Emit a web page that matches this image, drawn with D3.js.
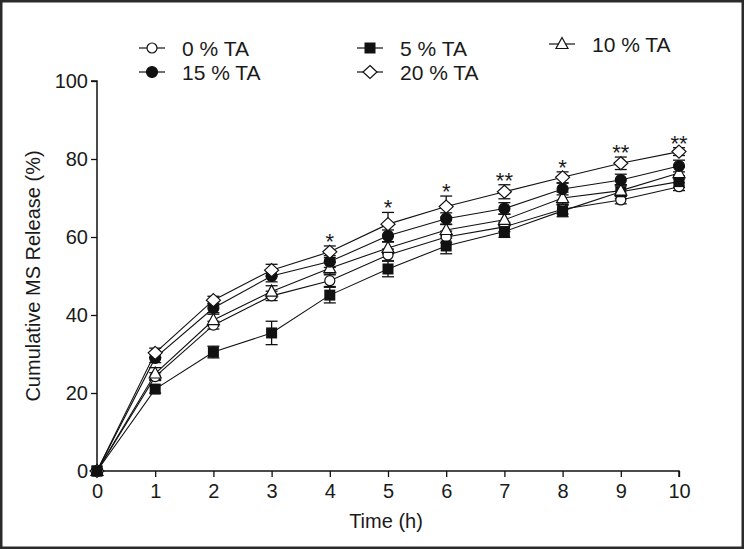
<!DOCTYPE html>
<html>
<head>
<meta charset="utf-8">
<script src="https://cdn.jsdelivr.net/npm/d3@7"></script>
<style>
  html, body { margin: 0; padding: 0; background: #fff; }
  svg { display: block; }
  text { font-family: "Liberation Sans", Arial, sans-serif; fill: #1a1a1a; }
</style>
</head>
<body>
<svg id="chart" width="744" height="549"></svg>
<script>
// ---- data ----
const times = [0, 1, 2, 3, 4, 5, 6, 7, 8, 9, 10];
const xTicks = [0, 1, 2, 3, 4, 5, 6, 7, 8, 9, 10];
const yTicks = [0, 20, 40, 60, 80, 100];

const seriesNames = ["0 % TA", "5 % TA", "10 % TA", "15 % TA", "20 % TA"];
const ta0  = [0, 24.2, 37.4, 44.9, 48.8, 55.4, 60.0, 62.6, 67.1, 69.5, 72.9];
const ta5  = [0, 21.0, 30.5, 35.4, 45.1, 51.8, 57.7, 61.4, 66.7, 71.6, 74.2];
const ta10 = [0, 25.0, 38.7, 46.0, 52.0, 57.2, 61.8, 64.4, 70.0, 71.9, 76.4];
const ta15 = [0, 29.0, 41.8, 50.0, 53.7, 60.3, 64.7, 67.3, 72.3, 74.6, 78.2];
const ta20 = [0, 30.3, 43.8, 51.5, 56.2, 63.3, 67.8, 71.6, 75.3, 78.9, 81.9];

const err0  = [0, 1.0, 1.0, 1.2, 1.5, 1.5, 1.5, 1.2, 1.2, 1.0, 1.0];
const err5  = [0, 1.0, 1.5, 3.0, 2.0, 2.0, 2.0, 1.5, 1.5, 1.8, 1.5];
const err10 = [0, 1.5, 1.5, 1.5, 1.5, 1.5, 1.5, 1.5, 1.5, 1.5, 1.5];
const err15 = [0, 1.2, 1.2, 1.5, 1.5, 1.5, 1.5, 1.5, 1.5, 1.5, 1.5];
const err20 = [0, 1.2, 1.0, 1.5, 1.5, 3.0, 2.7, 1.8, 1.4, 1.6, 1.0];

const stars = ["", "", "", "", "*", "*", "*", "**", "*", "**", "**"];

const seriesVals = [ta0, ta5, ta10, ta15, ta20];
const seriesErr  = [err0, err5, err10, err15, err20];
const seriesSym  = ["circleOpen", "squareFilled", "triangleOpen", "circleFilled", "diamondOpen"];

// ---- layout ----
const svg = d3.select("#chart");
const W = 744, H = 549;

svg.append("rect").attr("x", 0).attr("y", 0).attr("width", W).attr("height", H)
  .attr("fill", "#fff");
svg.append("rect").attr("x", 1.25).attr("y", 1.25).attr("width", W - 2.5).attr("height", H - 2.5)
  .attr("fill", "none").attr("stroke", "#2b2b2b").attr("stroke-width", 2.5);

const x = d3.scaleLinear().domain([0, 10]).range([97, 679]);
const y = d3.scaleLinear().domain([0, 100]).range([471, 81]);

const tickFont = "'Liberation Sans Narrow', 'Arial Narrow', 'Liberation Sans', Arial, sans-serif";

// axes
const xAxis = d3.axisBottom(x).tickValues(xTicks).tickSize(6).tickPadding(7).tickFormat(d3.format("d"));
const yAxis = d3.axisLeft(y).tickValues(yTicks).tickSize(6).tickPadding(3).tickFormat(d3.format("d"));

const gx = svg.append("g").attr("transform", `translate(0,${y(0)})`).call(xAxis);
const gy = svg.append("g").attr("transform", `translate(${x(0)},0)`).call(yAxis);
[gx, gy].forEach(g => {
  g.select(".domain").attr("stroke", "#111").attr("stroke-width", 1.5);
  g.selectAll(".tick line").attr("stroke", "#111").attr("stroke-width", 1.3);
  g.selectAll(".tick text").attr("fill", "#1a1a1a").style("font-size", "20px")
    .style("font-family", tickFont);
});
gy.select(".domain").attr("d", `M-6,${y(100)}H0V${y(0)}`);
gx.select(".domain").attr("d", `M${x(0)},0H${x(10)}V6`);

// axis titles
svg.append("text").attr("x", (x(0) + x(10)) / 2 - 2).attr("y", 528)
  .attr("text-anchor", "middle").style("font-size", "20px").text("Time (h)");
svg.append("text").attr("transform", `translate(40,${(y(0) + y(100)) / 2}) rotate(-90)`)
  .attr("text-anchor", "middle").style("font-size", "20px").text("Cumulative MS Release (%)");

// marker drawing
function drawMarker(g, sym, cx, cy) {
  const sw = 1.2;
  if (sym === "circleOpen") {
    g.append("circle").attr("cx", cx).attr("cy", cy).attr("r", 5)
      .attr("fill", "#fff").attr("stroke", "#111").attr("stroke-width", sw);
  } else if (sym === "circleFilled") {
    g.append("circle").attr("cx", cx).attr("cy", cy).attr("r", 5.5)
      .attr("fill", "#111").attr("stroke", "#111").attr("stroke-width", sw);
  } else if (sym === "squareFilled") {
    g.append("rect").attr("x", cx - 5.5).attr("y", cy - 5.5).attr("width", 11).attr("height", 11)
      .attr("fill", "#111");
  } else if (sym === "triangleOpen") {
    g.append("path").attr("d", `M${cx},${cy - 6.5}L${cx + 6},${cy + 4.5}L${cx - 6},${cy + 4.5}Z`)
      .attr("fill", "#fff").attr("stroke", "#111").attr("stroke-width", sw);
  } else if (sym === "diamondOpen") {
    g.append("path").attr("d", `M${cx},${cy - 6.5}L${cx + 7},${cy}L${cx},${cy + 6.5}L${cx - 7},${cy}Z`)
      .attr("fill", "#fff").attr("stroke", "#111").attr("stroke-width", sw);
  }
}

const plot = svg.append("g");
const line = d3.line().x((d, i) => x(times[i])).y(d => y(d));

// lines
seriesVals.forEach(vals => {
  plot.append("path").datum(vals).attr("d", line)
    .attr("fill", "none").attr("stroke", "#111").attr("stroke-width", 1.1);
});

// error bars
seriesVals.forEach((vals, s) => {
  const errs = seriesErr[s];
  vals.forEach((v, i) => {
    const e = errs[i];
    if (!e) return;
    const cx = x(times[i]);
    const g = plot.append("g").attr("stroke", "#111").attr("stroke-width", 1.3);
    g.append("line").attr("x1", cx).attr("x2", cx).attr("y1", y(v - e)).attr("y2", y(v + e));
    g.append("line").attr("x1", cx - 6).attr("x2", cx + 6).attr("y1", y(v + e)).attr("y2", y(v + e));
    g.append("line").attr("x1", cx - 6).attr("x2", cx + 6).attr("y1", y(v - e)).attr("y2", y(v - e));
  });
});

// markers
seriesVals.forEach((vals, s) => {
  const g = plot.append("g");
  vals.forEach((v, i) => drawMarker(g, seriesSym[s], x(times[i]), y(v)));
});
drawMarker(plot, "squareFilled", x(0), y(0));

// significance stars
times.forEach((t, i) => {
  if (!stars[i]) return;
  let top = -Infinity;
  seriesVals.forEach((vals, s) => { top = Math.max(top, vals[i] + seriesErr[s][i]); });
  svg.append("text").attr("x", x(t)).attr("y", y(top) + 3)
    .attr("text-anchor", "middle").style("font-size", "22px").text(stars[i]);
});

// legend
const legendItems = [
  { name: seriesNames[0], sym: seriesSym[0], cx: 152, cy: 48 },
  { name: seriesNames[1], sym: seriesSym[1], cx: 370, cy: 48 },
  { name: seriesNames[2], sym: seriesSym[2], cx: 562, cy: 44 },
  { name: seriesNames[3], sym: seriesSym[3], cx: 152, cy: 72 },
  { name: seriesNames[4], sym: seriesSym[4], cx: 370, cy: 72 }
];
const lg = svg.append("g");
legendItems.forEach(it => {
  lg.append("line").attr("x1", it.cx - 13).attr("x2", it.cx + 13)
    .attr("y1", it.cy).attr("y2", it.cy).attr("stroke", "#111").attr("stroke-width", 1.2);
  drawMarker(lg, it.sym, it.cx, it.cy);
  lg.append("text").attr("x", it.cx + 30).attr("y", it.cy + 7.5)
    .style("font-size", "21px").text(it.name);
});
</script>
</body>
</html>
